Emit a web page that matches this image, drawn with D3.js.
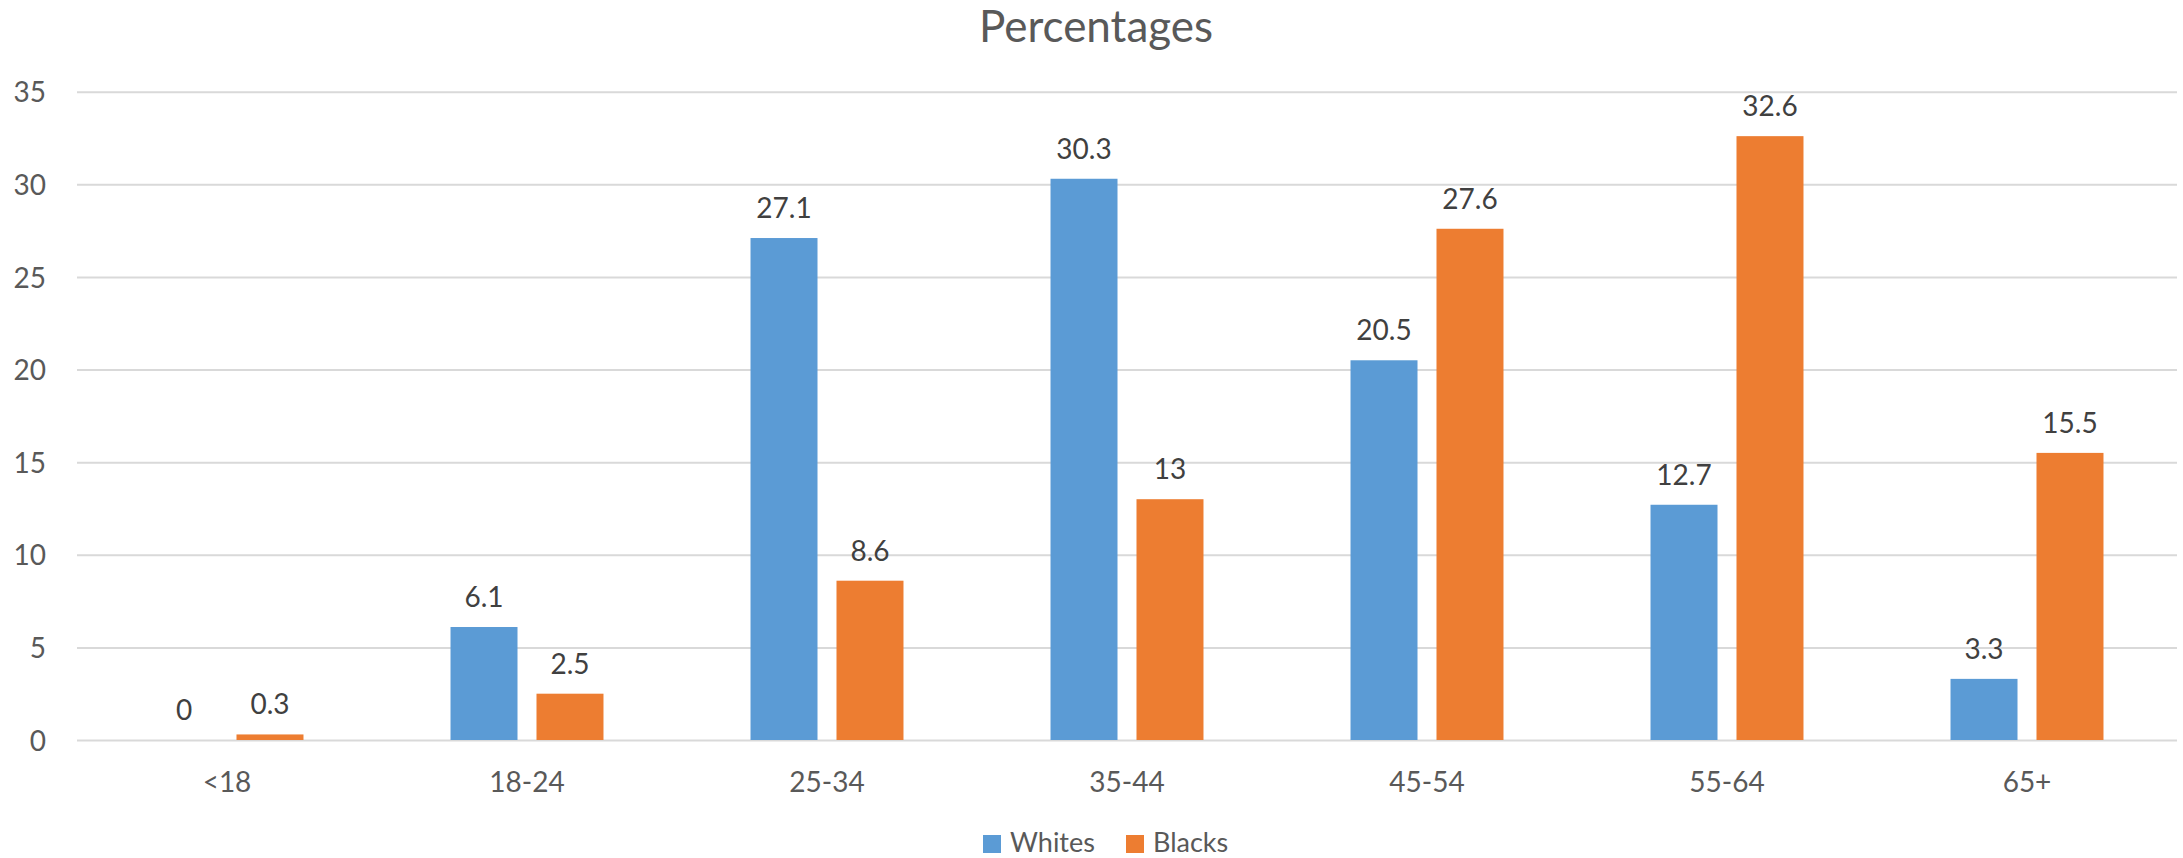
<!DOCTYPE html>
<html>
<head>
<meta charset="utf-8">
<script src="https://cdn.jsdelivr.net/npm/d3@7"></script>
<style>
  html, body { margin: 0; padding: 0; background: #fff; }
  svg { display: block; }
  text { font-family: Lato, "Noto Sans", sans-serif; }
</style>
</head>
<body>
<svg id="chart" width="2183" height="858"></svg>
<script>
const categories = ["<18", "18-24", "25-34", "35-44", "45-54", "55-64", "65+"];
const seriesNames = ["Whites", "Blacks"];
const whites = [0, 6.1, 27.1, 30.3, 20.5, 12.7, 3.3];
const blacks = [0.3, 2.5, 8.6, 13, 27.6, 32.6, 15.5];
const yTicks = [0, 5, 10, 15, 20, 25, 30, 35];
const title = "Percentages";

const colors = ["#5B9BD5", "#ED7D31"];
const W = 2183, H = 858;
const m = { left: 77, right: 2177, top: 91.7, bottom: 740 };

const svg = d3.select("#chart");

const x = d3.scaleBand().domain(categories).range([m.left, m.right]).paddingInner(0).paddingOuter(0);
const y = d3.scaleLinear().domain([0, 35]).range([m.bottom, m.top]);

// bar layout within band: two bars with a small gap, centered
const bw = x.bandwidth();
const barW = bw * 0.2233;
const barGap = bw * 0.0633;
const sub = d3.scaleOrdinal().domain(seriesNames)
  .range([bw / 2 - barGap / 2 - barW, bw / 2 + barGap / 2]);

// title
svg.append("text")
  .attr("x", 1096).attr("y", 42)
  .attr("text-anchor", "middle")
  .attr("font-size", 44)
  .attr("fill", "#595959")
  .text(title);

// gridlines + y labels
const yAxis = d3.axisLeft(y).tickValues(yTicks).tickSize(-(m.right - m.left)).tickPadding(31).tickFormat(d3.format("d"));
const gy = svg.append("g").attr("transform", `translate(${m.left},0)`).call(yAxis);
gy.select(".domain").remove();
gy.selectAll(".tick line").attr("stroke", "#d9d9d9").attr("stroke-width", 2);
gy.selectAll(".tick text").attr("font-size", 28).attr("fill", "#595959")
  .attr("font-family", "Lato, 'Noto Sans', sans-serif").attr("dy", "0.36em");

// x axis labels
const xAxis = d3.axisBottom(x).tickSize(0).tickPadding(32);
const gx = svg.append("g").attr("transform", `translate(0,${m.bottom})`).call(xAxis);
gx.select(".domain").remove();
gx.selectAll(".tick text").attr("font-size", 28).attr("fill", "#595959")
  .attr("font-family", "Lato, 'Noto Sans', sans-serif");

const data = categories.map((c, i) => ({ cat: c, vals: [whites[i], blacks[i]] }));

const groups = svg.append("g").selectAll("g").data(data).join("g")
  .attr("transform", d => `translate(${x(d.cat)},0)`);

groups.selectAll("rect").data(d => d.vals.map((v, j) => ({ v, s: seriesNames[j], j })))
  .join("rect")
  .attr("x", d => sub(d.s))
  .attr("width", barW)
  .attr("y", d => y(d.v))
  .attr("height", d => y(0) - y(d.v))
  .attr("fill", d => colors[d.j]);

groups.selectAll("text.lbl").data(d => d.vals.map((v, j) => ({ v, s: seriesNames[j], j })))
  .join("text")
  .attr("class", "lbl")
  .attr("x", d => sub(d.s) + barW / 2)
  .attr("y", d => y(d.v) - 20)
  .attr("text-anchor", "middle")
  .attr("font-size", 28)
  .attr("fill", "#404040")
  .text(d => d3.format("")(d.v));

// legend
const legendX = [983, 1126];
const leg = svg.append("g").selectAll("g").data(seriesNames).join("g")
  .attr("transform", (d, i) => `translate(${legendX[i]},835)`);
leg.append("rect").attr("width", 18).attr("height", 18).attr("fill", (d, i) => colors[i]);
leg.append("text").attr("x", 27).attr("y", 17)
  .attr("font-size", 27).attr("fill", "#595959").text(d => d);
</script>
</body>
</html>
